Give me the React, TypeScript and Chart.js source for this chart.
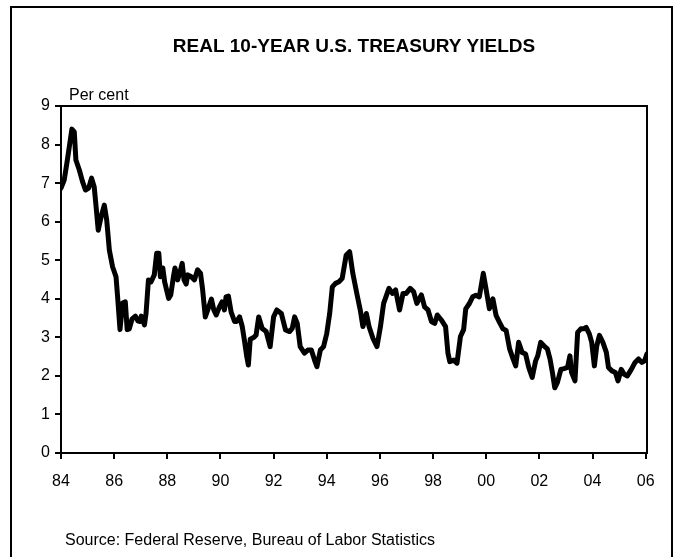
import { useEffect, useRef } from 'react';
import { Chart, registerables } from 'chart.js';

Chart.register(...registerables);

const FONT = '"Liberation Sans", Arial, Helvetica, sans-serif';
const TITLE = 'REAL 10-YEAR U.S. TREASURY YIELDS';
const UNIT = 'Per cent';
const SOURCE = 'Source: Federal Reserve, Bureau of Labor Statistics';

const xTickYears = [1984, 1986, 1988, 1990, 1992, 1994, 1996, 1998, 2000, 2002, 2004, 2006];
const yTicks = [0, 1, 2, 3, 4, 5, 6, 7, 8, 9];

const dates = [
  1984.00, 1984.12, 1984.24, 1984.41, 1984.50, 1984.56, 1984.69, 1984.81, 1984.92,
  1985.04, 1985.15, 1985.25, 1985.32, 1985.40, 1985.51, 1985.63, 1985.72, 1985.82, 1985.94,
  1986.07, 1986.13, 1986.22, 1986.32, 1986.42, 1986.49, 1986.57, 1986.67, 1986.80, 1986.89, 1986.98,
  1987.02, 1987.14, 1987.20, 1987.29, 1987.39, 1987.51, 1987.60, 1987.68, 1987.74, 1987.83, 1987.90,
  1988.05, 1988.13, 1988.23, 1988.29, 1988.39, 1988.48, 1988.56, 1988.63, 1988.71, 1988.77, 1988.90,
  1989.02, 1989.14, 1989.25, 1989.33, 1989.43, 1989.56, 1989.66, 1989.75, 1989.84, 1989.96,
  1990.06, 1990.15, 1990.21, 1990.30, 1990.40, 1990.53, 1990.61, 1990.72, 1990.82, 1990.90, 1990.99,
  1991.05, 1991.12, 1991.26, 1991.34, 1991.44, 1991.57, 1991.72, 1991.87,
  1992.00, 1992.12, 1992.29, 1992.45, 1992.60, 1992.70, 1992.79, 1992.89,
  1993.00, 1993.16, 1993.29, 1993.42, 1993.54, 1993.63, 1993.76, 1993.88,
  1994.00, 1994.11, 1994.21, 1994.33, 1994.46, 1994.58, 1994.73, 1994.86, 1994.98,
  1995.13, 1995.26, 1995.36, 1995.49, 1995.59, 1995.74, 1995.89,
  1996.02, 1996.14, 1996.34, 1996.47, 1996.59, 1996.74, 1996.87, 1996.99,
  1997.14, 1997.27, 1997.39, 1997.56, 1997.68, 1997.81, 1997.94,
  1998.06, 1998.16, 1998.31, 1998.47, 1998.56, 1998.63, 1998.78, 1998.90,
  1999.03, 1999.15, 1999.23, 1999.36, 1999.49, 1999.61, 1999.74, 1999.89, 1999.99,
  2000.12, 2000.25, 2000.37, 2000.50, 2000.63, 2000.75, 2000.88,
  2001.01, 2001.11, 2001.22, 2001.35, 2001.48, 2001.60, 2001.73, 2001.86, 2001.94,
  2002.05, 2002.17, 2002.30, 2002.40, 2002.49, 2002.58, 2002.68, 2002.81, 2002.93,
  2003.06, 2003.15, 2003.21, 2003.34, 2003.44, 2003.56, 2003.67, 2003.76, 2003.88, 2003.97,
  2004.07, 2004.16, 2004.26, 2004.39, 2004.52, 2004.60, 2004.73, 2004.86, 2004.96,
  2005.08, 2005.19, 2005.31, 2005.46, 2005.60, 2005.73, 2005.86, 2005.96, 2006.05,
];

const yields = [
  6.87, 7.08, 7.60, 8.40, 8.33, 7.60, 7.34, 7.04, 6.82,
  6.87, 7.13, 6.90, 6.39, 5.78, 6.13, 6.43, 6.04, 5.26, 4.83,
  4.57, 4.05, 3.20, 3.89, 3.92, 3.20, 3.22, 3.47, 3.55, 3.43, 3.41,
  3.55, 3.32, 3.62, 4.49, 4.44, 4.62, 5.18, 5.18, 4.57, 4.80, 4.44,
  4.01, 4.10, 4.57, 4.80, 4.49, 4.70, 4.92, 4.49, 4.38, 4.62, 4.57,
  4.49, 4.75, 4.66, 4.23, 3.53, 3.79, 3.99, 3.71, 3.58, 3.79,
  3.92, 3.71, 4.05, 4.07, 3.66, 3.41, 3.41, 3.53, 3.28, 2.93, 2.50,
  2.28, 2.95, 3.00, 3.06, 3.53, 3.23, 3.15, 2.76,
  3.53, 3.71, 3.62, 3.19, 3.15, 3.23, 3.53, 3.36,
  2.76, 2.59, 2.67, 2.67, 2.41, 2.24, 2.67, 2.76,
  3.10, 3.62, 4.31, 4.40, 4.44, 4.53, 5.13, 5.22, 4.66,
  4.14, 3.71, 3.28, 3.62, 3.28, 2.97, 2.76,
  3.28, 3.88, 4.27, 4.14, 4.23, 3.71, 4.14, 4.14,
  4.27, 4.18, 3.88, 4.10, 3.79, 3.71, 3.41,
  3.36, 3.58, 3.45, 3.28, 2.59, 2.37, 2.41, 2.33,
  3.02, 3.20, 3.74, 3.87, 4.05, 4.09, 4.05, 4.66, 4.27,
  3.74, 4.00, 3.57, 3.39, 3.22, 3.18, 2.70,
  2.44, 2.26, 2.87, 2.61, 2.57, 2.22, 1.96, 2.39, 2.52,
  2.87, 2.78, 2.70, 2.44, 2.09, 1.69, 1.83, 2.17, 2.19,
  2.22, 2.52, 2.09, 1.87, 3.13, 3.22, 3.22, 3.26, 3.09, 2.87,
  2.26, 2.78, 3.05, 2.87, 2.61, 2.22, 2.13, 2.09, 1.87,
  2.17, 2.04, 2.00, 2.17, 2.35, 2.44, 2.35, 2.39, 2.57,
];

const decorPlugin = {
  id: 'decor',
  afterDraw(chart: any) {
    const { ctx, chartArea: a } = chart;
    ctx.save();
    ctx.strokeStyle = '#000';
    ctx.lineWidth = 2;
    ctx.strokeRect(a.left, a.top, a.right - a.left, a.bottom - a.top);
    ctx.fillStyle = '#000';
    ctx.font = `bold 19px ${FONT}`;
    ctx.textAlign = 'center';
    ctx.textBaseline = 'middle';
    ctx.fillText(TITLE, (a.left + a.right) / 2, 47);
    ctx.font = `16px ${FONT}`;
    ctx.textAlign = 'left';
    ctx.fillText(UNIT, a.left + 8, a.top - 10);
    ctx.fillText(SOURCE, 65, 541);
    ctx.restore();
  },
};

export default function App() {
  const ref = useRef<HTMLCanvasElement | null>(null);

  useEffect(() => {
    if (!ref.current) return;
    const chart = new Chart(ref.current, {
      type: 'line',
      data: {
        datasets: [
          {
            data: dates.map((d, i) => ({ x: d, y: yields[i] })),
            borderColor: '#000',
            borderWidth: 5,
            pointRadius: 0,
            tension: 0,
            borderJoinStyle: 'round',
            borderCapStyle: 'round',
            fill: false,
          },
        ],
      },
      options: {
        animation: false,
        responsive: false,
        devicePixelRatio: 1,
        layout: { padding: { left: 14, right: 32, top: 106, bottom: 70 } },
        plugins: { legend: { display: false }, tooltip: { enabled: false }, title: { display: false } },
        scales: {
          x: {
            type: 'linear',
            min: 1984,
            max: 2006.05,
            afterFit: (s: any) => { s.height = 34; },
            afterBuildTicks: (s: any) => { s.ticks = xTickYears.map((v) => ({ value: v })); },
            border: { display: true, color: '#000', width: 2 },
            grid: { drawOnChartArea: false, drawTicks: true, tickLength: 6, color: '#000', lineWidth: 2 },
            ticks: {
              color: '#000',
              font: { family: FONT, size: 16 },
              padding: 13,
              maxRotation: 0,
              autoSkip: false,
              callback: (v: any) => String(Math.round(v) % 100).padStart(2, '0'),
            },
          },
          y: {
            min: 0,
            max: 9,
            afterFit: (s: any) => { s.width = 47; },
            afterBuildTicks: (s: any) => { s.ticks = yTicks.map((v) => ({ value: v })); },
            border: { display: true, color: '#000', width: 2 },
            grid: { drawOnChartArea: false, drawTicks: true, tickLength: 6, color: '#000', lineWidth: 2 },
            ticks: {
              color: '#000',
              font: { family: FONT, size: 16 },
              padding: 5,
              autoSkip: false,
            },
          },
        },
      },
      plugins: [decorPlugin],
    });
    return () => chart.destroy();
  }, []);

  return (
    <div style={{ position: 'fixed', left: 0, top: 0, width: 679, height: 557, background: '#fff', overflow: 'hidden' }}>
      <div
        style={{
          position: 'absolute',
          left: 10,
          top: 6,
          width: 663,
          height: 600,
          border: '2px solid #000',
          boxSizing: 'border-box',
        }}
      />
      <canvas ref={ref} width={679} height={557} style={{ position: 'absolute', left: 0, top: 0, width: 679, height: 557, display: 'block' }} />
    </div>
  );
}
